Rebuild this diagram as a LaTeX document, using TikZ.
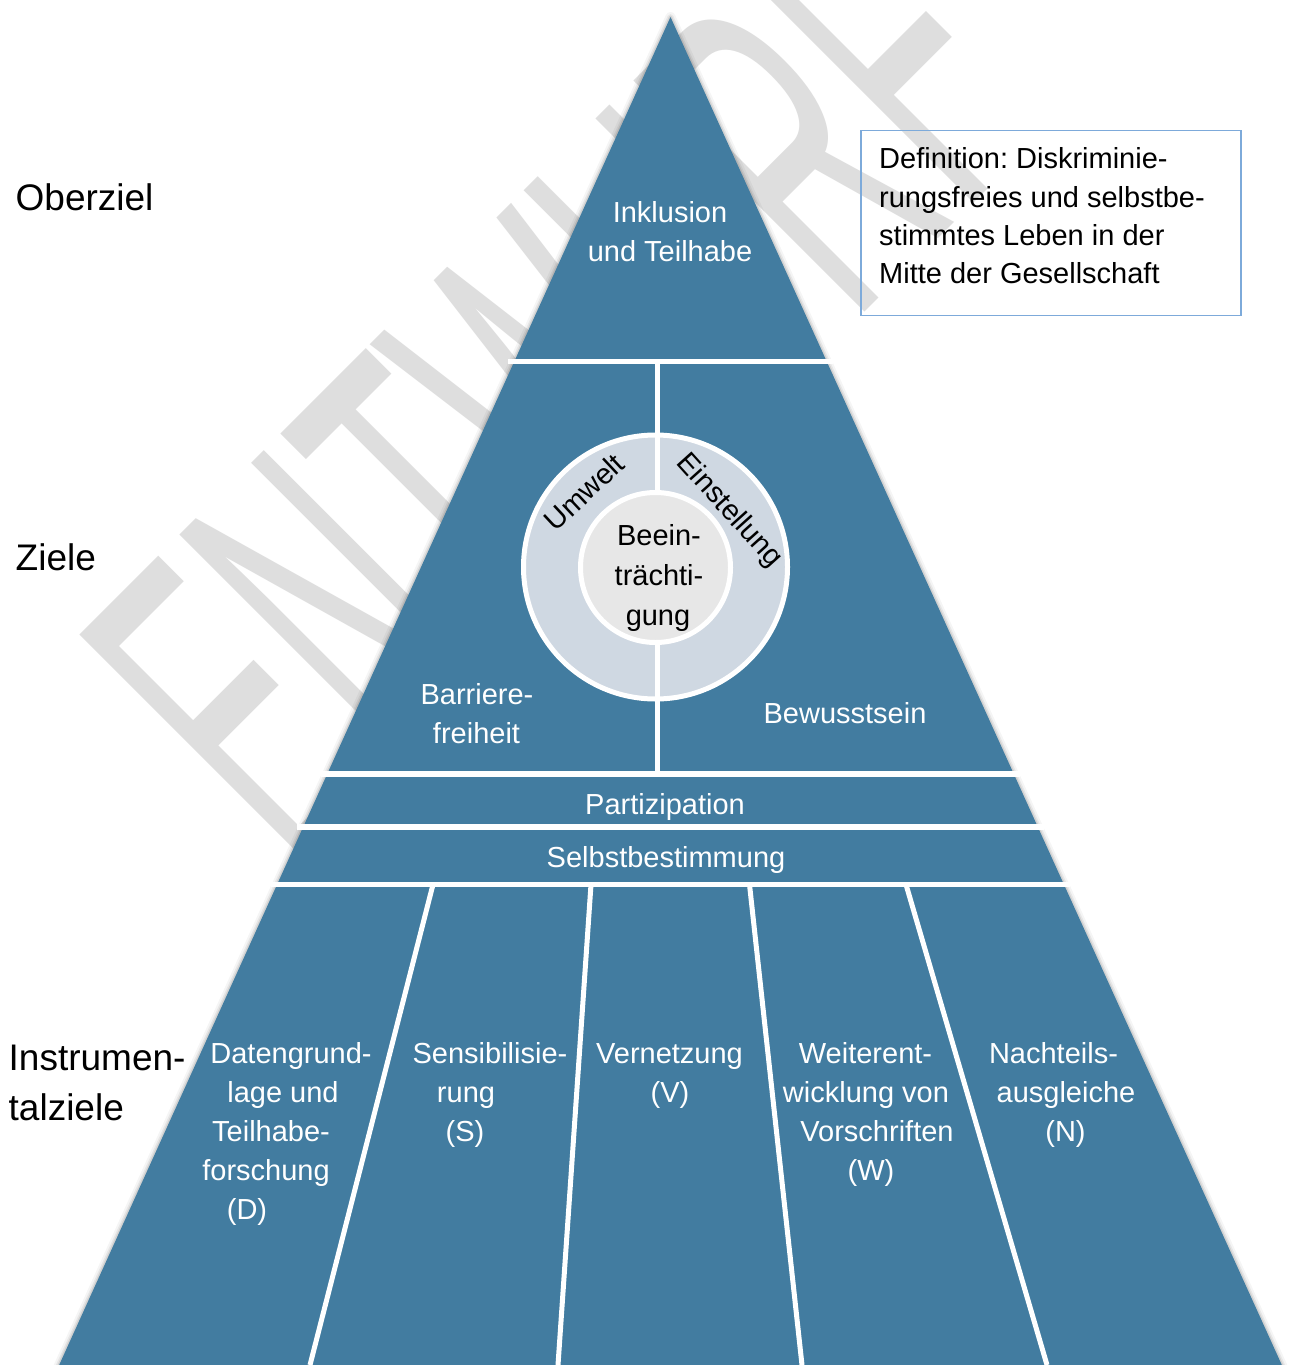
\documentclass[tikz,border=0pt]{standalone}
\usepackage{fontspec}
\setmainfont{Liberation Sans}
\newfontfamily\wmfont{Liberation Sans}[FakeStretch=0.45]
\definecolor{pyr}{RGB}{66,124,160}
\definecolor{ringc}{RGB}{207,216,226}
\definecolor{corec}{RGB}{231,231,231}
\definecolor{wmgray}{RGB}{222,222,222}
\definecolor{defborder}{RGB}{125,170,218}
\frenchspacing
\begin{document}
\begin{tikzpicture}[x=1pt,y=-1pt,
  wtext/.style={text=white, font=\fontsize{29}{35}\selectfont, inner sep=0pt, anchor=base},
  btext/.style={text=black, font=\fontsize{29}{35}\selectfont, inner sep=0pt, anchor=base},
  lbl/.style={text=black, font=\fontsize{37}{44}\selectfont, inner sep=0pt, anchor=base west},
  deftext/.style={btext, anchor=base west},
  wmark/.style={text=wmgray, font=\wmfont\fontsize{475}{475}\selectfont, rotate=45,
      anchor=base west, inner sep=0pt},
  sepline/.style={draw=white, line width=5.5pt},
  divline/.style={draw=white, line width=5pt},
]
\useasboundingbox (0,0) rectangle (1288,1365);
\fill[white] (0,0) rectangle (1288,1365);

% watermark
\node[wmark] (wm) at (298,879) {ENTWURF};

% definition box
\draw[defborder, line width=1.3pt] (861,130.5) rectangle (1241,315.5);
\node[deftext] (def1) at (879,168) {Definition: Diskriminie-};
\node[deftext] (def2) at (879,207) {rungsfreies und selbstbe-};
\node[deftext] (def3) at (879,245) {stimmtes Leben in der};
\node[deftext] (def4) at (879,283) {Mitte der Gesellschaft};

% level labels
\node[lbl] (ober) at (15.5,210) {Oberziel};
\node[lbl] (ziele) at (15.5,570) {Ziele};
\node[lbl] (instr1) at (8.5,1070) {Instrumen-};
\node[lbl] (instr2) at (8.5,1120) {talziele};

% pyramid shadow
\foreach \w/\o in {10/0.04, 6/0.06, 3/0.09}
  \draw[black, opacity=\o, line width=\w pt, line join=round]
    (50.1,1385) -- (670.5,17) -- (1290.9,1385);

% pyramid
\fill[pyr] (670.5,17) -- (1290.9,1385) -- (50.1,1385) -- cycle;

% horizontal separators
\draw[sepline] (508,361.5) -- (833,361.5);
\draw[sepline] (321,774) -- (1020,774);
\draw[sepline] (297,827) -- (1044,827);
\draw[sepline] (271,884.5) -- (1070,884.5);

% circle
\draw[white, line width=5pt, fill=ringc] (655.5,567) circle[radius=132];
\draw[divline] (657,361.5) -- (657,774);
\draw[white, line width=5pt, fill=corec] (655.5,567.5) circle[radius=75];

% dividers of bottom section
\draw[divline] (433,884.5) -- (310,1365);
\draw[divline] (591,884.5) -- (558,1365);
\draw[divline] (749.5,884.5) -- (802,1365);
\draw[divline] (906,884.5) -- (1047,1365);

% top
\node[wtext] (ink1) at (670,222) {Inklusion};
\node[wtext] (ink2) at (670,261) {und Teilhabe};

% Ziele band
\node[wtext] (bar1) at (477,704) {Barriere-};
\node[wtext] (bar2) at (476.5,743) {freiheit};
\node[wtext] (bew) at (845,723) {Bewusstsein};
\node[btext] (bee1) at (659,545) {Beein-};
\node[btext] (bee2) at (659,585) {trächti-};
\node[btext] (bee3) at (658,625) {gung};
\node[btext, anchor=center, rotate=43] (umw) at (584,492) {Umwelt};
\node[btext, anchor=center, rotate=-48] (einst) at (729,511) {Einstellung};

% bands
\node[wtext] (part) at (665,814) {Partizipation};
\node[wtext] (selbst) at (666,867) {Selbstbestimmung};

% instrument goals
\node[wtext] (d1) at (291,1063) {Datengrund-};
\node[wtext] (d2) at (283,1102) {lage und};
\node[wtext] (d3) at (271,1141) {Teilhabe-};
\node[wtext] (d4) at (266,1180) {forschung};
\node[wtext] (d5) at (247,1219) {(D)};

\node[wtext] (s1) at (490,1063) {Sensibilisie-};
\node[wtext] (s2) at (466,1102) {rung};
\node[wtext] (s3) at (465,1141) {(S)};

\node[wtext] (v1) at (669.5,1063) {Vernetzung};
\node[wtext] (v2) at (670,1102) {(V)};

\node[wtext] (w1) at (865.5,1063) {Weiterent-};
\node[wtext] (w2) at (866,1102) {wicklung von};
\node[wtext] (w3) at (877,1141) {Vorschriften};
\node[wtext] (w4) at (871,1180) {(W)};

\node[wtext] (n1) at (1053.5,1063) {Nachteils-};
\node[wtext] (n2) at (1066,1102) {ausgleiche};
\node[wtext] (n3) at (1065.5,1141) {(N)};
\end{tikzpicture}
\end{document}
